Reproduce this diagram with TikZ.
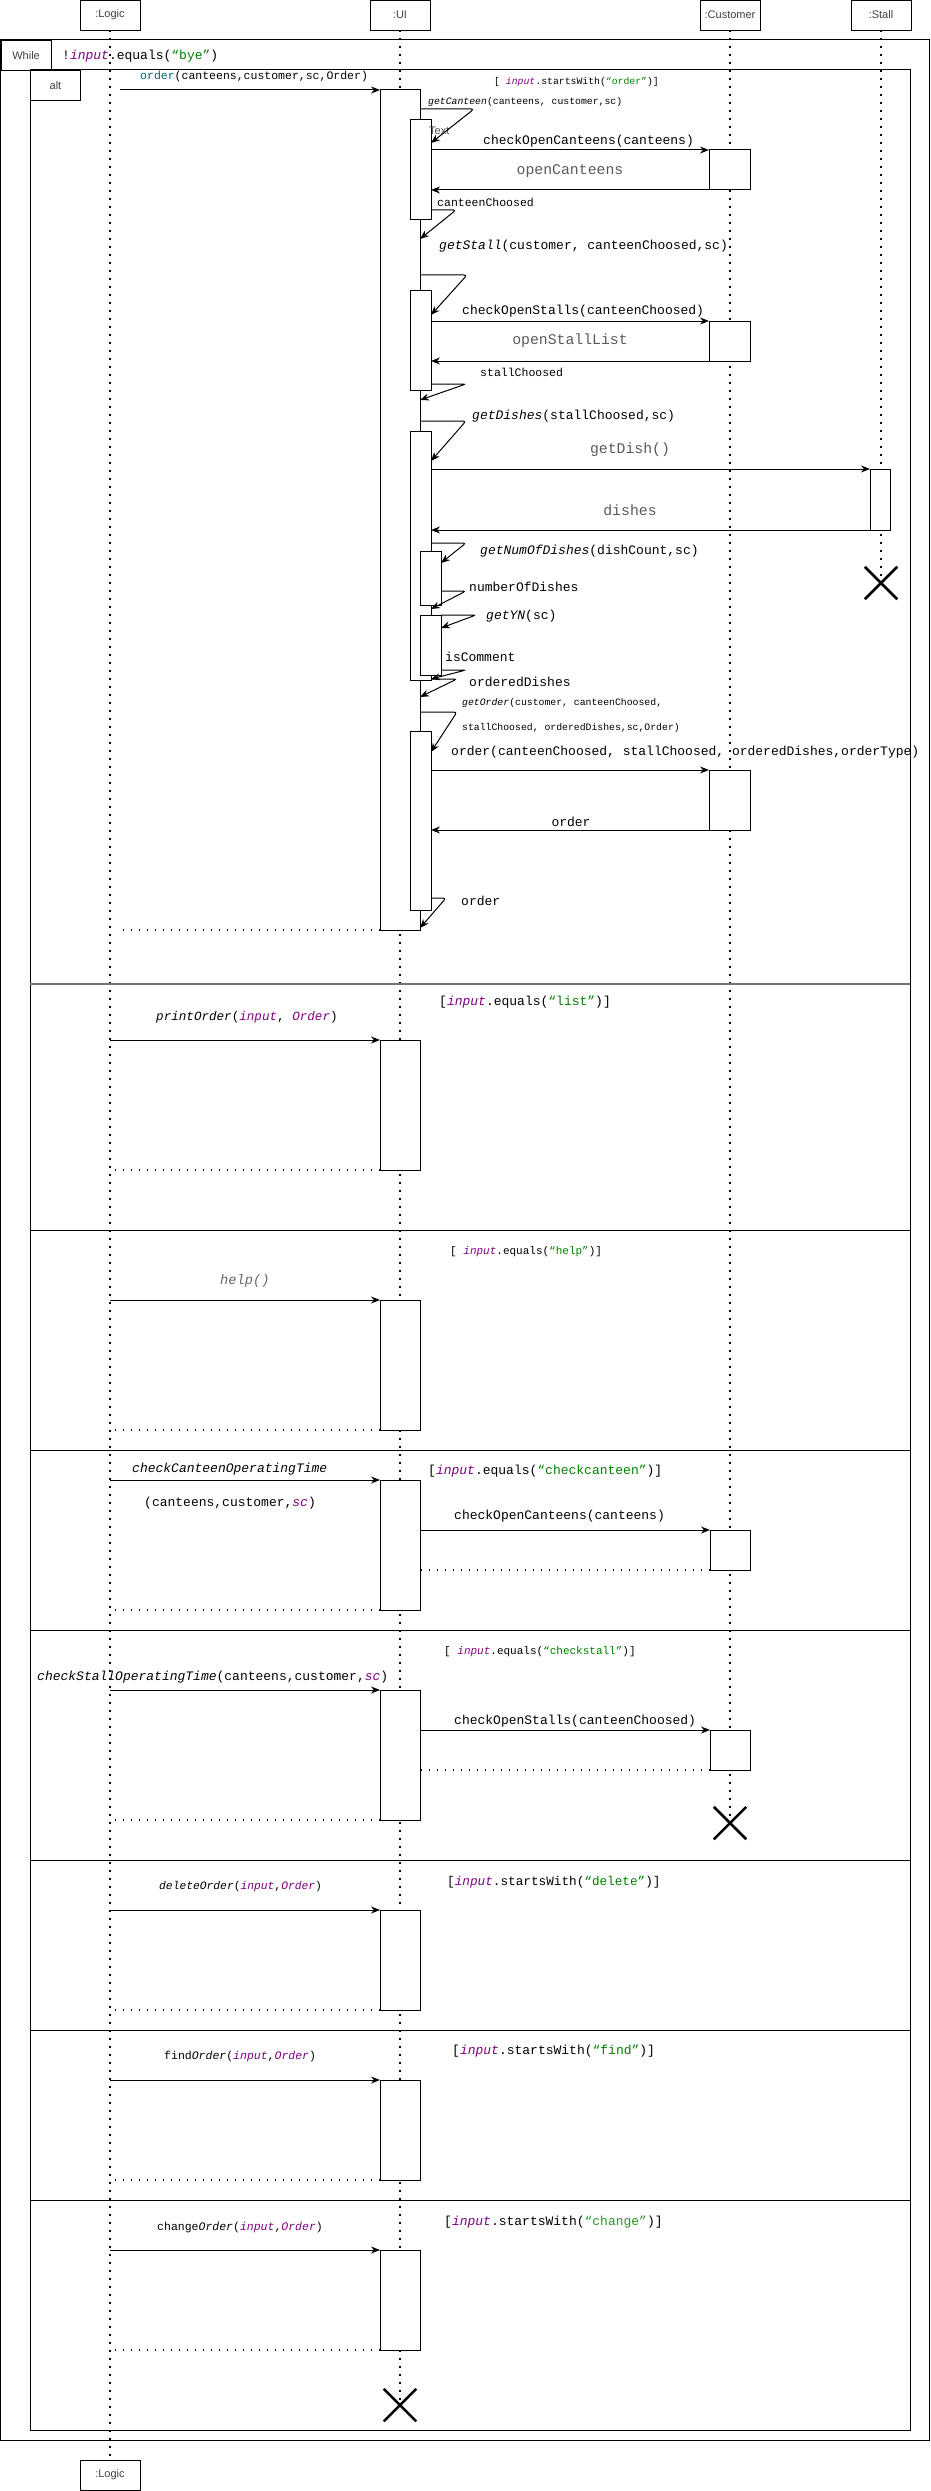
\documentclass[tikz,border=0pt]{standalone}
\usepackage{fontspec}
\setmainfont{Liberation Sans}
\setsansfont{Liberation Sans}
\setmonofont{Liberation Mono}
\usepackage{xcolor}
\usetikzlibrary{arrows.meta,shapes.misc,positioning,calc}

\definecolor{kwpurple}{RGB}{128,0,128}
\definecolor{strgreen}{RGB}{0,128,0}
\definecolor{lightgreen}{RGB}{40,150,40}
\definecolor{mthteal}{RGB}{0,98,122}

\newcommand{\inpt}{\textcolor{kwpurple}{\textit{input}}}
\newcommand{\ordr}{\textcolor{kwpurple}{\textit{Order}}}
\newcommand{\strq}[1]{\textcolor{strgreen}{“#1”}}

\tikzset{
  head/.style={draw, line width=0.8pt, minimum width=60pt, minimum height=30pt, inner sep=0pt,
    font=\fontsize{11}{13}\selectfont\sffamily, text=black!75},
  tag/.style={draw, line width=1pt, minimum width=50pt, minimum height=30pt, inner sep=0pt,
    anchor=north west, font=\fontsize{11}{13}\selectfont\sffamily, text=black!75},
  life/.style={line width=1.5pt, dash pattern=on 1.5pt off 6.5pt},
  ret/.style={line width=1.5pt, dash pattern=on 1.5pt off 6.5pt},
  frame/.style={line width=1pt},
  act/.style={draw, fill=white, line width=1pt, inner sep=0pt, outer sep=0pt, anchor=north west},
  msg/.style={line width=1pt, -{Stealth[length=9pt,width=7pt]}},
  selfmsg/.style={msg, rounded corners=3pt},
  kill/.style={draw, cross out, line width=2.5pt, minimum size=30pt, inner sep=0pt},
  lbl/.style={inner sep=0pt, anchor=west, font=\fontsize{13}{15}\selectfont\ttfamily},
  mlbl/.style={lbl, font=\fontsize{11.5}{13}\selectfont\ttfamily},
  slbl/.style={lbl, font=\fontsize{9.8}{12}\selectfont\ttfamily},
  rlbl/.style={inner sep=0pt, text=black!65, font=\fontsize{14.8}{17}\selectfont\ttfamily}
}

\begin{document}
\begin{tikzpicture}[x=1pt, y=-1pt]
    \useasboundingbox (0,0) rectangle (931,2491);

    % lifelines
    \node[head] (logic) at (110,15) {:Logic};
    \node[head] (ui) at (400,15) {:UI};
    \node[head] (cust) at (730,15) {:Customer};
    \node[head] (stall) at (881,15) {:Stall};
    \node[head] (logicEnd) at (110,2475) {:Logic};
    \node[kill] (uiX) at (400,2405) {};
    \node[kill] (custX) at (730,1823) {};
    \node[kill] (stallX) at (881,583) {};
    \draw[life] (logic) -- (logicEnd);
    \draw[life] (ui) -- (uiX.center);
    \draw[life] (cust) -- (custX.center);
    \draw[life] (stall) -- (stallX.center);

    % frames
    \draw[frame] (0.6,40) rectangle (929,2440);
    \node[tag] (whileTag) at (0.6,40) {While};
    \node[lbl] (loopCond) at (62,56) {!\inpt.equals(\strq{bye})};
    \draw[frame] (30,70) rectangle (910,2430);
    \node[tag] (altTag) at (30,70) {alt};
    \draw[line width=2pt, black!55] (30,984) -- (910,984);
    \draw[frame] (30,1230) -- (910,1230);
    \draw[frame] (30,1450) -- (910,1450);
    \draw[frame] (30,1630) -- (910,1630);
    \draw[frame] (30,1860) -- (910,1860);
    \draw[frame] (30,2030) -- (910,2030);
    \draw[frame] (30,2200) -- (910,2200);

    % order
    \node[act, minimum width=40pt, minimum height=840pt] (uiA) at (380,90) {};
    \node[act, minimum width=21pt, minimum height=100pt] (nA1) at (410,120) {};
    \node[act, minimum width=41pt, minimum height=40pt] (cuA1) at (709,150) {};
    \node[act, minimum width=21pt, minimum height=100pt] (nA2) at (410,290) {};
    \node[act, minimum width=41pt, minimum height=40pt] (cuA2) at (709,321) {};
    \node[act, minimum width=21pt, minimum height=249pt] (nA3) at (410,431) {};
    \node[act, minimum width=20pt, minimum height=61pt] (stA) at (870,469) {};
    \node[act, minimum width=21pt, minimum height=54pt] (nA4) at (420,551) {};
    \node[act, minimum width=21pt, minimum height=60pt] (nA5) at (420,615) {};
    \node[act, minimum width=21pt, minimum height=179pt] (nA6) at (410,731) {};
    \node[act, minimum width=41pt, minimum height=60pt] (cuA3) at (709,770) {};

    \node[mlbl] (lOrder) at (140,77) {\textcolor{mthteal}{order}(canteens,customer,sc,Order)};
    \draw[msg, shorten <=10pt] (logic |- uiA.north) -- (uiA.north west);
    \node[slbl] (gOrder) at (494,82) {[ \inpt.startsWith(\strq{order})]};

    \node[slbl] (lGetCanteen) at (428,102) {\textit{getCanteen}(canteens, customer,sc)};
    \node[inner sep=0pt, anchor=west, font=\fontsize{11}{13}\selectfont\sffamily, text=black!70] (lText) at (429,131) {Text};
    \draw[selfmsg] (uiA.east |- 0,109) -- ++(54,0) -- (nA1.east |- 0,143);
    \node[lbl] (lCheckCanteens) at (483,141) {checkOpenCanteens(canteens)};
    \draw[msg] (nA1.east |- cuA1.north) -- (cuA1.north west);
    \node[rlbl] (lOpenCanteens) at (570,171) {openCanteens};
    \draw[msg] (cuA1.south west) -- (nA1.east |- cuA1.south);
    \node[mlbl] (lCanteenChoosed) at (437,202) {canteenChoosed};
    \draw[selfmsg] (nA1.east |- 0,210) -- ++(25,0) -- (uiA.east |- 0,239);

    \node[lbl] (lGetStall) at (439,246) {\textit{getStall}(customer, canteenChoosed,sc)};
    \draw[selfmsg] (uiA.east |- 0,275) -- ++(47,0) -- (nA2.east |- 0,315);
    \node[lbl] (lCheckStalls) at (462,311) {checkOpenStalls(canteenChoosed)};
    \draw[msg] (nA2.east |- cuA2.north) -- (cuA2.north west);
    \node[rlbl] (lOpenStalls) at (570,341) {openStallList};
    \draw[msg] (cuA2.south west) -- (nA2.east |- cuA2.south);
    \node[mlbl] (lStallChoosed) at (480,372) {stallChoosed};
    \draw[selfmsg] (nA2.east |- 0,384) -- ++(35,0) -- (uiA.east |- 0,400);

    \node[lbl] (lGetDishes) at (472,416) {\textit{getDishes}(stallChoosed,sc)};
    \draw[selfmsg] (uiA.east |- 0,421) -- ++(46,0) -- (nA3.east |- 0,461);
    \node[rlbl] (lGetDish) at (630,450) {getDish()};
    \draw[msg] (nA3.east |- stA.north) -- (stA.north west);
    \node[rlbl] (lDishes) at (630,510) {dishes};
    \draw[msg] (stA.south west) -- (nA3.east |- stA.south);
    \node[lbl] (lNumDishes) at (480,551) {\textit{getNumOfDishes}(dishCount,sc)};
    \draw[selfmsg] (nA3.east |- 0,543) -- ++(35,0) -- (nA4.east |- 0,563);
    \node[lbl] (lNumberOf) at (469,587) {numberOfDishes};
    \draw[selfmsg] (nA4.east |- 0,591) -- ++(25,0) -- (nA3.east |- 0,609);
    \node[lbl] (lGetYN) at (486,616) {\textit{getYN}(sc)};
    \draw[selfmsg] (nA5.north east) -- ++(35,0) -- (nA5.east |- 0,628);
    \node[lbl] (lIsComment) at (445,657) {isComment};
    \draw[selfmsg] (nA5.east |- 0,670) -- ++(25,0) -- (nA3.east |- 0,679);
    \node[lbl] (lOrdered) at (469,682) {orderedDishes};
    \draw[selfmsg] (nA3.east |- 0,679) -- ++(26,0) -- (uiA.east |- 0,697);

    \node[slbl] (lGetOrder1) at (462,703) {\textit{getOrder}(customer, canteenChoosed,};
    \node[slbl] (lGetOrder2) at (462,728) {stallChoosed, orderedDishes,sc,Order)};
    \draw[selfmsg] (uiA.east |- 0,712) -- ++(37,0) -- (nA6.east |- 0,752);
    \node[lbl] (lMakeOrder) at (451,752) {order(canteenChoosed, stallChoosed, orderedDishes,orderType)};
    \draw[msg] (nA6.east |- cuA3.north) -- (cuA3.north west);
    \node[lbl, anchor=center] (lOrderRet) at (571,822) {order};
    \draw[msg] (cuA3.south west) -- (nA6.east |- cuA3.south);
    \node[lbl] (lOrderBack) at (461,901) {order};
    \draw[selfmsg] (nA6.east |- 0,898) -- ++(15,0) -- (uiA.east |- 0,928);
    \draw[ret, shorten >=12pt] (uiA.south west) -- (logic |- uiA.south);

    % list
    \node[act, minimum width=40pt, minimum height=130pt] (uiB) at (380,1040) {};
    \node[lbl] (gList) at (439,1002) {[\inpt.equals(\strq{list})]};
    \node[lbl, font=\fontsize{12.6}{15}\selectfont\ttfamily] (lPrint) at (156,1017) {\textit{printOrder}(\inpt, \ordr)};
    \draw[msg] (logic |- uiB.north) -- (uiB.north west);
    \draw[ret] (uiB.south west) -- (logic |- uiB.south);

    % help
    \node[act, minimum width=40pt, minimum height=130pt] (uiC) at (380,1300) {};
    \node[lbl, font=\fontsize{11}{13}\selectfont\ttfamily] (gHelp) at (450,1252) {[ \inpt.equals(\strq{help})]};
    \node[lbl, text=black!60, font=\fontsize{13.7}{16}\selectfont\ttfamily] (lHelp) at (220,1281) {\textit{help()}};
    \draw[msg] (logic |- uiC.north) -- (uiC.north west);
    \draw[ret] (uiC.south west) -- (logic |- uiC.south);

    % checkcanteen
    \node[act, minimum width=40pt, minimum height=130pt] (uiD) at (380,1480) {};
    \node[act, minimum width=40pt, minimum height=40pt] (cuB) at (710,1530) {};
    \node[lbl] (lCanteenTime) at (132,1469) {\textit{checkCanteenOperatingTime}};
    \node[lbl] (lCanteenArgs) at (144,1503) {(canteens,customer,\textcolor{kwpurple}{\textit{sc}})};
    \node[lbl] (gCanteen) at (428,1471) {[\inpt.equals(\strq{checkcanteen})]};
    \draw[msg] (logic |- uiD.north) -- (uiD.north west);
    \node[lbl] (lCheckCanteens2) at (454,1516) {checkOpenCanteens(canteens)};
    \draw[msg] (uiD.east |- cuB.north) -- (cuB.north west);
    \draw[ret] (cuB.south west) -- (uiD.east |- cuB.south);
    \draw[ret] (uiD.south west) -- (logic |- uiD.south);

    % checkstall
    \node[act, minimum width=40pt, minimum height=130pt] (uiE) at (380,1690) {};
    \node[act, minimum width=40pt, minimum height=40pt] (cuC) at (710,1730) {};
    \node[lbl, font=\fontsize{11}{13}\selectfont\ttfamily] (gStall) at (444,1652) {[ \inpt.equals(\strq{checkstall})]};
    \node[lbl] (lStallTime) at (37,1677) {\textit{checkStallOperatingTime}(canteens,customer,\textcolor{kwpurple}{\textit{sc}})};
    \draw[msg] (logic |- uiE.north) -- (uiE.north west);
    \node[lbl] (lCheckStalls2) at (454,1721) {checkOpenStalls(canteenChoosed)};
    \draw[msg] (uiE.east |- cuC.north) -- (cuC.north west);
    \draw[ret] (cuC.south west) -- (uiE.east |- cuC.south);
    \draw[ret] (uiE.south west) -- (logic |- uiE.south);

    % delete
    \node[act, minimum width=40pt, minimum height=100pt] (uiF) at (380,1910) {};
    \node[lbl, font=\fontsize{11.3}{13}\selectfont\ttfamily] (lDelete) at (159,1887) {\textit{deleteOrder}(\inpt,\ordr)};
    \node[lbl, font=\fontsize{12.7}{15}\selectfont\ttfamily] (gDelete) at (447,1882) {[\inpt.startsWith(\strq{delete})]};
    \draw[msg] (logic |- uiF.north) -- (uiF.north west);
    \draw[ret] (uiF.south west) -- (logic |- uiF.south);

    % find
    \node[act, minimum width=40pt, minimum height=100pt] (uiG) at (380,2080) {};
    \node[mlbl] (lFind) at (164,2057) {find\textit{Order}(\inpt,\ordr)};
    \node[lbl] (gFind) at (452,2051) {[\inpt.startsWith(\strq{find})]};
    \draw[msg] (logic |- uiG.north) -- (uiG.north west);
    \draw[ret] (uiG.south west) -- (logic |- uiG.south);

    % change
    \node[act, minimum width=40pt, minimum height=100pt] (uiH) at (380,2250) {};
    \node[mlbl] (lChange) at (157,2227) {change\textit{Order}(\inpt,\ordr)};
    \node[lbl] (gChange) at (444,2222) {[\inpt.startsWith(\textcolor{lightgreen}{“change”})]};
    \draw[msg] (logic |- uiH.north) -- (uiH.north west);
    \draw[ret] (uiH.south west) -- (logic |- uiH.south);
\end{tikzpicture}
\end{document}
